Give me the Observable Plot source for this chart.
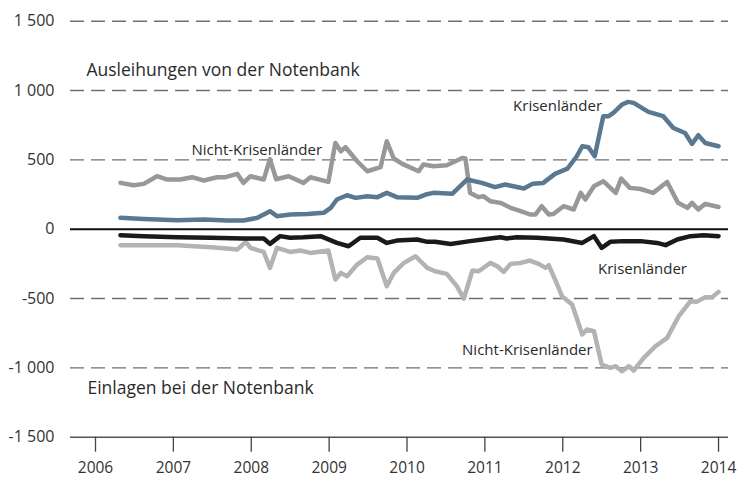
<!DOCTYPE html>
<html><head><meta charset="utf-8">
<script src="https://cdn.jsdelivr.net/npm/d3@7"></script>
<script src="https://cdn.jsdelivr.net/npm/@observablehq/plot@0.6"></script>
<style>body{margin:0;background:#fff;} #chart svg{display:block;}</style>
</head><body><div id="chart"></div>
<script>
// Tick labels
const yearTicks = [2006, 2007, 2008, 2009, 2010, 2011, 2012, 2013, 2014];
const yTicks = [-1500, -1000, -500, 0, 500, 1000, 1500];

// Ausleihungen von der Notenbank – Nicht-Krisenländer
const nkLoanX = [2006.32,2006.49,2006.62,2006.79,2006.92,2007.09,2007.24,2007.39,2007.56,2007.67,2007.82,2007.90,2007.99,2008.16,2008.24,2008.32,2008.48,2008.67,2008.76,2008.99,2009.08,2009.15,2009.21,2009.36,2009.49,2009.66,2009.74,2009.83,2009.94,2010.15,2010.21,2010.34,2010.51,2010.62,2010.71,2010.75,2010.81,2010.92,2010.98,2011.07,2011.20,2011.33,2011.46,2011.58,2011.65,2011.73,2011.82,2011.88,2012.01,2012.14,2012.23,2012.29,2012.40,2012.52,2012.68,2012.75,2012.86,2013.00,2013.16,2013.34,2013.48,2013.60,2013.66,2013.74,2013.83,2014.00];
const nkLoanY = [334,317,327,382,358,358,375,351,375,375,399,334,382,358,505,360,382,334,375,341,622,562,591,490,418,447,634,510,471,418,466,454,461,490,514,510,262,231,238,202,190,154,130,106,106,166,106,110,166,142,262,214,310,346,262,365,298,290,262,341,190,154,190,142,183,160];

// Ausleihungen von der Notenbank – Krisenländer
const kLoanX = [2006.32,2006.62,2007.05,2007.39,2007.69,2007.90,2008.08,2008.24,2008.33,2008.50,2008.72,2008.93,2009.02,2009.10,2009.23,2009.34,2009.49,2009.62,2009.74,2009.87,2010.13,2010.24,2010.34,2010.58,2010.77,2010.96,2011.13,2011.26,2011.50,2011.61,2011.75,2011.90,2012.06,2012.18,2012.25,2012.33,2012.41,2012.52,2012.59,2012.65,2012.76,2012.84,2012.91,2013.10,2013.29,2013.42,2013.57,2013.66,2013.74,2013.83,2014.00];
const kLoanY = [82,74,65,70,63,63,82,130,94,106,110,118,154,214,245,226,238,231,262,231,226,250,262,255,358,334,303,322,293,327,334,399,437,526,598,591,526,815,815,839,899,918,911,846,815,730,694,615,678,622,598];

// Einlagen bei der Notenbank – Krisenländer
const kDepX = [2006.32,2006.62,2007.05,2007.48,2007.90,2008.16,2008.24,2008.37,2008.50,2008.67,2008.89,2009.10,2009.25,2009.40,2009.62,2009.74,2009.87,2010.13,2010.26,2010.36,2010.56,2010.81,2011.07,2011.20,2011.28,2011.41,2011.67,2012.01,2012.25,2012.40,2012.50,2012.61,2012.78,2013.00,2013.21,2013.32,2013.47,2013.64,2013.81,2014.00];
const kDepY = [-43,-50,-58,-62,-67,-67,-106,-50,-62,-58,-50,-99,-123,-62,-62,-99,-82,-74,-91,-91,-106,-86,-67,-58,-67,-58,-62,-74,-99,-50,-135,-91,-86,-86,-99,-115,-74,-50,-43,-50];

// Einlagen bei der Notenbank – Nicht-Krisenländer
const nkDepX = [2006.32,2006.62,2007.05,2007.48,2007.69,2007.82,2007.93,2007.99,2008.16,2008.24,2008.33,2008.50,2008.63,2008.76,2008.99,2009.08,2009.15,2009.23,2009.36,2009.49,2009.62,2009.74,2009.83,2009.96,2010.11,2010.26,2010.36,2010.51,2010.64,2010.73,2010.84,2010.92,2011.01,2011.07,2011.16,2011.24,2011.33,2011.46,2011.58,2011.69,2011.78,2011.82,2011.91,2011.99,2012.12,2012.25,2012.31,2012.40,2012.50,2012.61,2012.68,2012.76,2012.85,2012.91,2013.04,2013.19,2013.34,2013.49,2013.64,2013.72,2013.83,2013.92,2014.00];
const nkDepY = [-115,-115,-115,-130,-139,-147,-91,-135,-164,-279,-135,-164,-154,-171,-154,-363,-315,-339,-255,-202,-211,-411,-315,-243,-195,-279,-303,-322,-411,-500,-298,-303,-267,-243,-267,-308,-250,-243,-226,-250,-279,-260,-375,-483,-543,-759,-723,-735,-976,-1000,-988,-1024,-988,-1019,-928,-844,-784,-627,-519,-524,-490,-490,-452];

// Text labels
const sectionLabels = ["Ausleihungen von der Notenbank", "Einlagen bei der Notenbank"];
const sectionX = [2005.884, 2005.897];
const sectionY = [1142, -1147];
const seriesLabels = ["Nicht-Krisenländer", "Krisenländer", "Krisenländer", "Nicht-Krisenländer"];
const seriesLabelX = [2007.232, 2011.362, 2012.453, 2010.707];
const seriesLabelY = [573, 890, -287, -876];

const toRows = (xs, ys) => xs.map((x, i) => ({x, y: ys[i]}));
const fmt = d => {
  const s = Math.abs(d) >= 1000 ? (Math.floor(Math.abs(d)/1000) + " " + String(Math.abs(d) % 1000).padStart(3, "0")) : String(Math.abs(d));
  return (d < 0 ? "-" : "") + s;
};
const sections = sectionLabels.map((t, i) => ({t, x: sectionX[i], y: sectionY[i]}));
const seriesTxt = seriesLabels.map((t, i) => ({t, x: seriesLabelX[i], y: seriesLabelY[i]}));

const lineStyle = {x: "x", y: "y", strokeWidth: 4.5, strokeLinejoin: "round", strokeLinecap: "round"};

const chart = Plot.plot({
  width: 740, height: 479,
  marginLeft: 70, marginRight: 12, marginTop: 20.7, marginBottom: 42.3,
  style: {fontFamily: "'Open Sans', sans-serif", fontSize: "16px", color: "#333", background: "#fff", overflow: "visible"},
  x: {domain: [2005.679, 2014.128]},
  y: {domain: [-1500, 1500]},
  marks: [
    Plot.ruleY([1500, 1000, 500, -500, -1000], {stroke: "#6f6f6f", strokeWidth: 1.4, strokeDasharray: "14,7"}),
    Plot.ruleY([-1500], {stroke: "#555", strokeWidth: 1.5}),
    Plot.axisX({ticks: yearTicks, tickSize: 15, tickPadding: 10, stroke: "#444", strokeWidth: 1.3, fontSize: 15.5, tickFormat: d => String(d), label: null}),
    Plot.axisY({ticks: yTicks, tickSize: 0, tickPadding: 16, fontSize: 16, tickFormat: fmt, label: null}),
    Plot.line(toRows(nkDepX, nkDepY), {...lineStyle, stroke: "#b3b3b5"}),
    Plot.line(toRows(kDepX, kDepY), {...lineStyle, stroke: "#1a1a1a"}),
    Plot.ruleY([0], {stroke: "#111", strokeWidth: 2}),
    Plot.line(toRows(nkLoanX, nkLoanY), {...lineStyle, stroke: "#98989b"}),
    Plot.line(toRows(kLoanX, kLoanY), {...lineStyle, stroke: "#5b7891"}),
    Plot.text(sections, {x: "x", y: "y", text: "t", textAnchor: "start", fontSize: 17.5, fill: "#2a2a2a"}),
    Plot.text(seriesTxt, {x: "x", y: "y", text: "t", textAnchor: "start", fontSize: 15, fill: "#2a2a2a"})
  ]
});
document.getElementById("chart").appendChild(chart);
</script>
</body></html>
